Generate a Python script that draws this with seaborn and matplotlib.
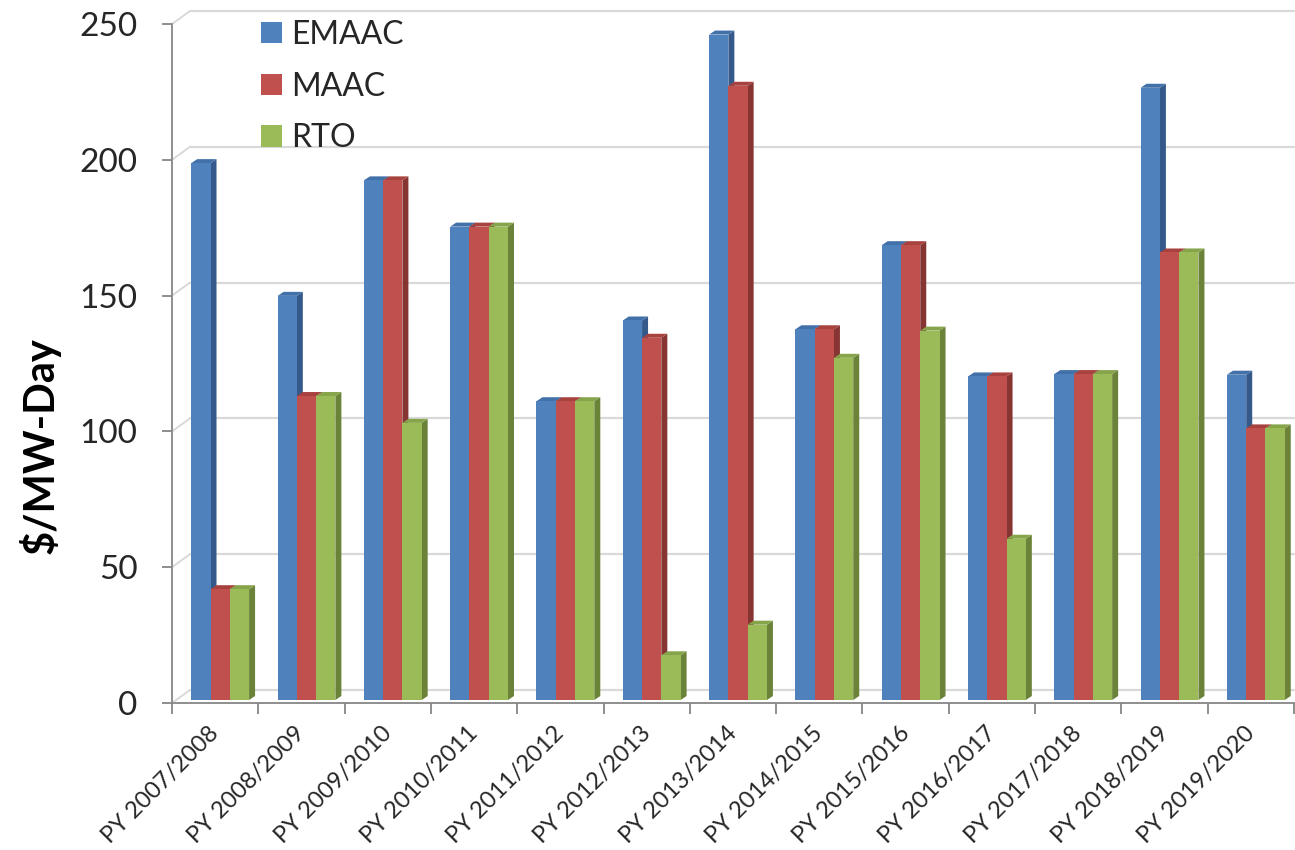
import matplotlib
matplotlib.use("Agg")
import matplotlib.pyplot as plt
import matplotlib.transforms as mtransforms
from matplotlib.patches import Polygon, Patch
from matplotlib.lines import Line2D
import seaborn as sns
import pandas as pd

# Capacity prices by delivery year ($/MW-Day)
years = ["PY 2007/2008", "PY 2008/2009", "PY 2009/2010", "PY 2010/2011",
         "PY 2011/2012", "PY 2012/2013", "PY 2013/2014", "PY 2014/2015",
         "PY 2015/2016", "PY 2016/2017", "PY 2017/2018", "PY 2018/2019",
         "PY 2019/2020"]
emaac = [197.67, 148.80, 191.32, 174.29, 110.00, 139.73, 245.00,
         136.50, 167.46, 119.13, 120.00, 225.42, 119.77]
maac = [40.80, 111.92, 191.32, 174.29, 110.00, 133.37, 226.15,
        136.50, 167.46, 119.13, 120.00, 164.77, 100.00]
rto = [40.80, 111.92, 102.04, 174.29, 110.00, 16.46, 27.73,
       125.99, 136.00, 59.37, 120.00, 164.77, 100.00]
regions = ["EMAAC", "MAAC", "RTO"]
y_ticks = [0, 50, 100, 150, 200, 250]

front_colors = ["#4F81BD", "#C0504D", "#9BBB59"]
top_colors = ["#4270A8", "#A8423F", "#86A44A"]
side_colors = ["#34598A", "#873533", "#6A8338"]

df = pd.DataFrame({
    "year": years * 3,
    "region": [r for r in regions for _ in years],
    "price": emaac + maac + rto,
})

sns.set_theme(style="white")
plt.rcParams["font.family"] = ["Lato", "DejaVu Sans"]

W, H, DPI = 1295, 850, 100
fig = plt.figure(figsize=(W / DPI, H / DPI), dpi=DPI)
ax = fig.add_axes([172 / W, 147 / H, 1122 / W, 679 / H])

sns.barplot(data=df, x="year", y="price", hue="region", order=years,
            hue_order=regions, palette=front_colors, width=0.67, gap=0,
            saturation=1, linewidth=0, errorbar=None, legend=False, ax=ax)

ax.set_xlim(-0.5, len(years) - 0.5)
ax.set_ylim(0, 250)

# pixel sizes of one data unit
px_x = 1122 / len(years)
px_y = 679 / 250.0

# bars sit slightly behind the front edge of the floor
shift = mtransforms.ScaledTranslation(5 / DPI, 3 / DPI, fig.dpi_scale_trans)
bar_trans = ax.transData + shift

depth_x = 6 / px_x
depth_y = 4 / px_y

bars = sorted(ax.patches, key=lambda p: p.get_x())
n_years = len(years)
for k, bar in enumerate(bars):
    center = bar.get_x() + bar.get_width() / 2
    hi = int(round((center - round(center)) / bar.get_width())) + 1
    x0 = bar.get_x()
    x1 = x0 + bar.get_width()
    h = bar.get_height()
    z = 2 + k * 0.01
    bar.set_transform(bar_trans)
    bar.set_zorder(z + 0.005)
    bar.set_facecolor(front_colors[hi])
    side = Polygon([(x1, 0), (x1 + depth_x, depth_y), (x1 + depth_x, h + depth_y), (x1, h)],
                   closed=True, facecolor=side_colors[hi], edgecolor="none",
                   transform=bar_trans, zorder=z, clip_on=False)
    top = Polygon([(x0, h), (x1, h), (x1 + depth_x, h + depth_y), (x0 + depth_x, h + depth_y)],
                  closed=True, facecolor=top_colors[hi], edgecolor="none",
                  transform=bar_trans, zorder=z, clip_on=False)
    ax.add_patch(side)
    ax.add_patch(top)

# back wall gridlines and side wall diagonals
wall_dx = 18 / px_x
wall_dy = 13 / px_y
x_left, x_right = ax.get_xlim()
for v in y_ticks:
    ax.add_line(Line2D([x_left + wall_dx, x_right], [v + wall_dy, v + wall_dy],
                       color="#D9D9D9", lw=1.6, zorder=1, clip_on=False))
    ax.add_line(Line2D([x_left, x_left + wall_dx], [v, v + wall_dy],
                       color="#D9D9D9", lw=1.4, zorder=1, clip_on=False))

# axes frame
for s in ["top", "right"]:
    ax.spines[s].set_visible(False)
for s in ["left", "bottom"]:
    ax.spines[s].set_color("#868686")
    ax.spines[s].set_linewidth(1.3)
    ax.spines[s].set_zorder(1.5)

ax.set_yticks(y_ticks)
ax.set_yticklabels([str(v) for v in y_ticks], fontsize=24)
ax.tick_params(axis="y", direction="out", length=7, width=1.3, color="#868686",
               pad=18, left=True)

ax.set_xticks([i - 0.5 for i in range(n_years + 1)], minor=False)
ax.set_xticklabels([])
ax.set_xticks(range(n_years), minor=True)
ax.set_xticklabels(years, minor=True, rotation=45, ha="right", va="top",
                   rotation_mode="anchor", fontsize=17)
ax.tick_params(axis="x", which="major", direction="out", length=8, width=1.3,
               color="#868686", bottom=True)
ax.tick_params(axis="x", which="minor", length=0, pad=14)
for lbl in ax.get_xticklabels(minor=True):
    lbl.set_transform(lbl.get_transform() +
                      mtransforms.ScaledTranslation(-7 / DPI, 0, fig.dpi_scale_trans))

ax.set_xlabel("")
ax.set_ylabel("")
fig.text(40 / W, 1 - 446 / H, "$/MW-Day", rotation=90, ha="center", va="center",
         fontsize=30, fontweight="bold", color="black")

handles = [Patch(facecolor=c, edgecolor="none") for c in front_colors]
leg = ax.legend(handles, regions, loc="upper left", bbox_to_anchor=(76 / 1122, 1.025),
                frameon=False, fontsize=23, handlelength=0.66, handleheight=0.66,
                handletextpad=0.3, labelspacing=0.68, borderaxespad=0)
leg.set_zorder(10)

fig.savefig("out.png", dpi=DPI)
